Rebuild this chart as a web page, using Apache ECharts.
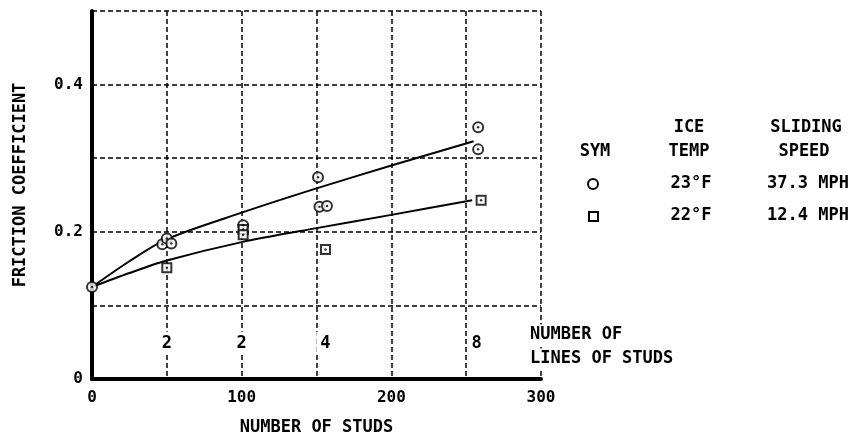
<!DOCTYPE html>
<html>
<head>
<meta charset="utf-8">
<script src="https://cdn.jsdelivr.net/npm/echarts@6/dist/echarts.min.js"></script>
<style>html,body{margin:0;padding:0;background:#fff}#c{width:853px;height:441px}</style>
</head>
<body>
<div id="c"></div>
<script>
// Data
const circlePoints = [[0,0.125],[47,0.183],[50,0.191],[53,0.184],[101,0.209],[151,0.274],[152,0.234],[157,0.235],[258,0.342],[258,0.312]];
const squarePoints = [[50,0.151],[101,0.203],[101,0.196],[156,0.176],[260,0.243]];
const upperCurve = [[0,0.125],[25,0.16],[50,0.19],[100,0.226],[150,0.259],[200,0.29],[255,0.323]];
const lowerCurve = [[0,0.125],[25,0.144],[50,0.161],[100,0.186],[150,0.205],[200,0.223],[254,0.243]];
const studLineX = [50,100,156,257];
const studLineLabels = ['2','2','4','8'];
const studLabelY = 0.0486;
const xTicks = [0,100,200,300];
const yTicks = [0,0.2,0.4];
const legendRows = [['SYM','ICE\nTEMP','SLIDING\nSPEED'],['circle','23°F','37.3 MPH'],['square','22°F','12.4 MPH']];

const FONT = '"DejaVu Sans Mono"';
const chart = echarts.init(document.getElementById('c'));
const gridStyle = {show:true, lineStyle:{color:'#000', type:[5,3], width:1.5}};
const txt = (t, x, y, extra) => ({type:'text', z:100, x, y, style:Object.assign({text:t, fill:'#000', font:'bold 17px ' + FONT, align:'center', verticalAlign:'middle'}, extra||{})});

chart.setOption({
  animation:false,
  backgroundColor:'#fff',
  grid:{left:92, right:312, top:11, bottom:59},
  xAxis:{
    type:'value', min:0, max:300, interval:50,
    name:'NUMBER OF STUDS', nameLocation:'middle', nameGap:40,
    nameTextStyle:{color:'#000', fontFamily:FONT, fontWeight:'bold', fontSize:17},
    axisLine:{lineStyle:{color:'#000', width:4}},
    axisTick:{show:false},
    axisLabel:{color:'#000', fontFamily:FONT, fontWeight:'bold', fontSize:16, margin:11,
      formatter:v => xTicks.includes(v) ? String(v) : ''},
    splitLine:gridStyle
  },
  yAxis:{
    type:'value', min:0, max:0.5, interval:0.1,
    axisLine:{show:true, lineStyle:{color:'#000', width:4}},
    axisTick:{show:false},
    axisLabel:{color:'#000', fontFamily:FONT, fontWeight:'bold', fontSize:16, margin:9,
      formatter:v => { const r = Math.round(v*10)/10; return yTicks.includes(r) ? (r===0?'0':r.toFixed(1)) : ''; }},
    splitLine:gridStyle
  },
  series:[
    {type:'line', data:upperCurve, smooth:0.3, symbol:'none', lineStyle:{color:'#000', width:2}, z:3},
    {type:'line', data:lowerCurve, smooth:0.3, symbol:'none', lineStyle:{color:'#000', width:2}, z:3},
    {type:'scatter', data:circlePoints, symbol:'circle', symbolSize:10, itemStyle:{color:'#fff', borderColor:'#000', borderWidth:2}, z:4},
    {type:'scatter', data:squarePoints, symbol:'rect', symbolSize:9, itemStyle:{color:'#fff', borderColor:'#000', borderWidth:2}, z:4},
    {type:'scatter', data:circlePoints.concat(squarePoints), symbol:'circle', symbolSize:2.5, itemStyle:{color:'#000'}, z:5},
    {type:'scatter', symbol:'circle', symbolSize:1, itemStyle:{color:'#fff', opacity:1}, z:6,
      data:studLineX.map((x,i)=>({value:[x, studLabelY], label:{formatter:studLineLabels[i]}})),
      label:{show:true, position:'inside', color:'#000', fontFamily:FONT, fontWeight:'bold', fontSize:17,
        backgroundColor:'#fff', padding:[3,4]}}
  ],
  graphic:[
    txt('FRICTION COEFFICIENT', 21, 185, {}),
    txt('NUMBER OF', 528, 335, {align:'left', backgroundColor:'#fff', padding:[2,2]}),
    txt('LINES OF STUDS', 528, 359, {align:'left', backgroundColor:'#fff', padding:[2,2]}),
    txt('ICE', 689, 128), txt('TEMP', 689, 152),
    txt('SLIDING', 806, 128), txt('SPEED', 804, 152),
    txt(legendRows[0][0], 595, 152),
    {type:'circle', z:100, shape:{cx:593, cy:184, r:5}, style:{fill:'#fff', stroke:'#000', lineWidth:2}},
    {type:'rect', z:100, shape:{x:589, y:212, width:9, height:9}, style:{fill:'#fff', stroke:'#000', lineWidth:2}},
    txt(legendRows[1][1], 691, 184), txt(legendRows[1][2], 808, 184),
    txt(legendRows[2][1], 691, 216), txt(legendRows[2][2], 808, 216)
  ]
});
// rotate y title
const opt = chart.getOption();
opt.graphic[0].elements[0].rotation = Math.PI/2;
chart.setOption({graphic:opt.graphic});
</script>
</body>
</html>
